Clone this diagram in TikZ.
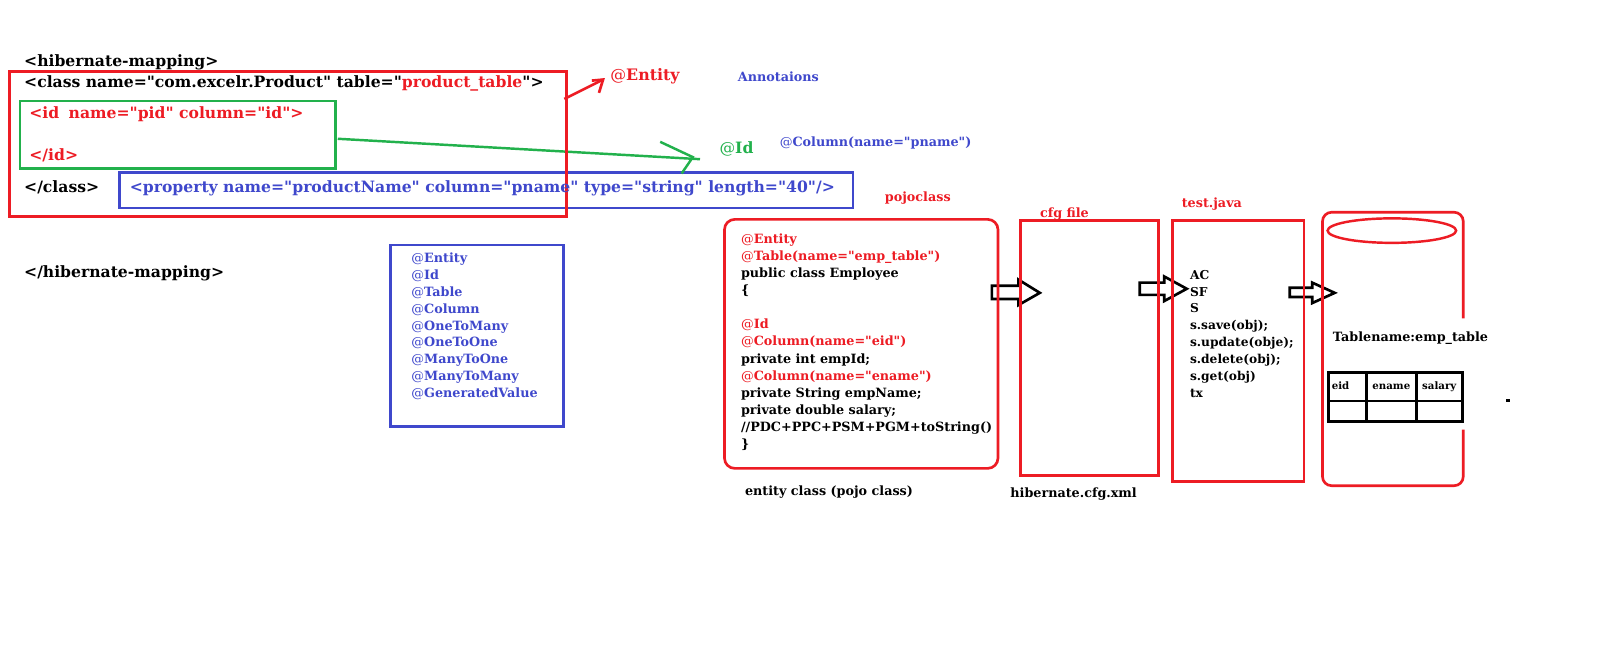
\documentclass[tikz,border=0pt]{standalone}
\usepackage{fontspec}
\setmainfont{DejaVu Serif}[Ligatures=TeXOff]
\definecolor{pred}{HTML}{ED1C24}
\definecolor{pblue}{HTML}{3F48CC}
\definecolor{pgreen}{HTML}{22B14C}
\newcommand\atsign{{\mdseries @}}
\begin{document}
\begin{tikzpicture}[x=1pt,y=-1pt,
  txt/.style={inner sep=0pt, anchor=base west, font=\bfseries\fontsize{15.3}{18}\selectfont},
  big/.style={inner sep=0pt, anchor=base west, font=\bfseries\fontsize{15.5}{18}\selectfont},
  sm/.style={inner sep=0pt, anchor=base west, font=\bfseries\fontsize{12.5}{15}\selectfont},
  tst/.style={inner sep=0pt, anchor=base west, font=\bfseries\fontsize{12}{14}\selectfont},
  tblcell/.style={inner sep=0pt, anchor=base, font=\bfseries\fontsize{10}{12}\selectfont},
  redbox/.style={draw=pred, line width=2.6pt},
  bluebox/.style={draw=pblue, line width=2.6pt},
  greenbox/.style={draw=pgreen, line width=2.6pt},
  blockarrow/.style={draw=black, line width=2.6pt, line join=miter},
  tblline/.style={draw=black, line width=2.8pt}
]
\fill[white] (0,0) rectangle (1568,652);
\useasboundingbox (0,0) rectangle (1568,652);

% hollow block arrows
\draw[blockarrow] (972,280) -- (998,280) -- (998,274) -- (1019,287) -- (998,299) -- (998,293) -- (972,293) -- cycle;
\draw[blockarrow] (1117,277) -- (1141,277) -- (1141,271) -- (1163,283) -- (1141,295) -- (1141,289) -- (1117,289) -- cycle;
\draw[blockarrow] (1264,282) -- (1286,282) -- (1286,277) -- (1308,287) -- (1286,297) -- (1286,291) -- (1264,291) -- cycle;

% mapping boxes
\draw[bluebox] (117,169) rectangle (836,204);
\draw[greenbox] (19.6,99) rectangle (329,165);
\coordinate (greenout) at (331,136);
\coordinate (greentip) at (679,154);
\coordinate (greenend) at (686,156);
\draw[pgreen, line width=2.4pt] (greenout) -- (greenend);
\draw[pgreen, line width=2.4pt] (647,139) -- (greentip) -- (668,170);
\draw[redbox] (9,70) rectangle (555,212);
\coordinate (redout) at (553,97);
\coordinate (redtip) at (591,78);
\draw[pred, line width=2.6pt] (redout) -- (redtip);
\draw[pred, line width=2.6pt] (580,79) -- (redtip) -- (587,91);

% mapping texts
\node[txt] (hm) at (23.5,65.6) {<hibernate-mapping>};
\node[txt] (cls) at (23.5,86) {<class name="com.excelr.Product" table="\textcolor{pred}{product\_table}">};
\node[txt, text=pred] (idopen) at (28.6,116) {<id\hspace{0.6em}name="pid" column="id">};
\node[txt, text=pred] (idclose) at (28.6,157) {</id>};
\node[txt] (clsclose) at (23.5,189) {</class>};
\node[txt, text=pblue] (prop) at (127,189) {<property name="productName" column="pname" type="string" length="40"/>};
\node[txt] (hmclose) at (23.5,271.6) {</hibernate-mapping>};

% annotation labels
\node[big, text=pred] (ent) at (598,79) {\atsign Entity};
\node[sm, text=pblue] (ann) at (723,80) {Annotaions};
\node[txt, text=pgreen] (idann) at (705,150) {\atsign Id};
\node[sm, text=pblue] (colann) at (764,144) {\atsign Column(name="pname")};

% annotation list
\draw[bluebox] (383,240) rectangle (552,418);
\node[sm, text=pblue] (l1) at (403,257.5) {\atsign Entity};
\node[sm, text=pblue] (l2) at (403,274) {\atsign Id};
\node[sm, text=pblue] (l3) at (403,290.5) {\atsign Table};
\node[sm, text=pblue] (l4) at (403,307) {\atsign Column};
\node[sm, text=pblue] (l5) at (403,323.5) {\atsign OneToMany};
\node[sm, text=pblue] (l6) at (403,340) {\atsign OneToOne};
\node[sm, text=pblue] (l7) at (403,356.5) {\atsign ManyToOne};
\node[sm, text=pblue] (l8) at (403,373) {\atsign ManyToMany};
\node[sm, text=pblue] (l9) at (403,389.5) {\atsign GeneratedValue};

% pojo class
\draw[redbox, rounded corners=10pt] (710,215) rectangle (978,459);
\node[sm, text=pred] (pojolbl) at (867,197) {pojoclass};
\node[sm, text=pred] (p1) at (726,238.5) {\atsign Entity};
\node[sm, text=pred] (p2) at (726,255.25) {\atsign Table(name="emp\_table")};
\node[sm] (p3) at (726,272) {public class Employee};
\node[sm] (p4) at (726,288.75) {\{};
\node[sm, text=pred] (p5) at (726,322.25) {\atsign Id};
\node[sm, text=pred] (p6) at (726,339) {\atsign Column(name="eid")};
\node[sm] (p7) at (726,355.75) {private int empId;};
\node[sm, text=pred] (p8) at (726,372.5) {\atsign Column(name="ename")};
\node[sm] (p9) at (726,389.25) {private String empName;};
\node[sm] (p10) at (726,406) {private double salary;};
\node[sm] (p11) at (726,422.75) {//PDC+PPC+PSM+PGM+toString()};
\node[sm] (p12) at (726,439.5) {\}};
\node[sm] (pojocap) at (730,485.5) {entity class (pojo class)};

% cfg file
\draw[redbox] (1000,216) rectangle (1135,466);
\node[sm, text=pred] (cfglbl) at (1019,213) {cfg file};
\node[sm] (cfgcap) at (990,488) {hibernate.cfg.xml};

% test.java
\draw[redbox] (1149,216) rectangle (1278,472);
\node[sm, text=pred] (testlbl) at (1158,203) {test.java};
\node[tst] (t1) at (1166,273.5) {AC};
\node[tst] (t2) at (1166,290.1) {SF};
\node[tst] (t3) at (1166,306.7) {S};
\node[tst] (t4) at (1166,323.3) {s.save(obj);};
\node[tst] (t5) at (1166,339.9) {s.update(obje);};
\node[tst] (t6) at (1166,356.5) {s.delete(obj);};
\node[tst] (t7) at (1166,373.1) {s.get(obj)};
\node[tst] (t8) at (1166,389.7) {tx};

% database
\draw[redbox, rounded corners=9pt] (1434,312) -- (1434,208) -- (1296,208) -- (1296,476) -- (1434,476) -- (1434,421);
\draw[pred, line width=2.4pt] (1364,226) ellipse [x radius=63, y radius=12];
\node[sm] (tname) at (1306,334.5) {Tablename:emp\_table};
\draw[tblline] (1302,365) rectangle (1433,413);
\draw[tblline] (1302,393) -- (1433,393);
\draw[tblline] (1339,365) -- (1339,413);
\draw[tblline] (1388,365) -- (1388,413);
\node[tblcell, anchor=base west] (c1) at (1305,382) {eid};
\node[tblcell] (c2) at (1363.5,382) {ename};
\node[tblcell] (c3) at (1410.5,382) {salary};
\fill[black] (1476,391) rectangle (1480,394);
\end{tikzpicture}
\end{document}
